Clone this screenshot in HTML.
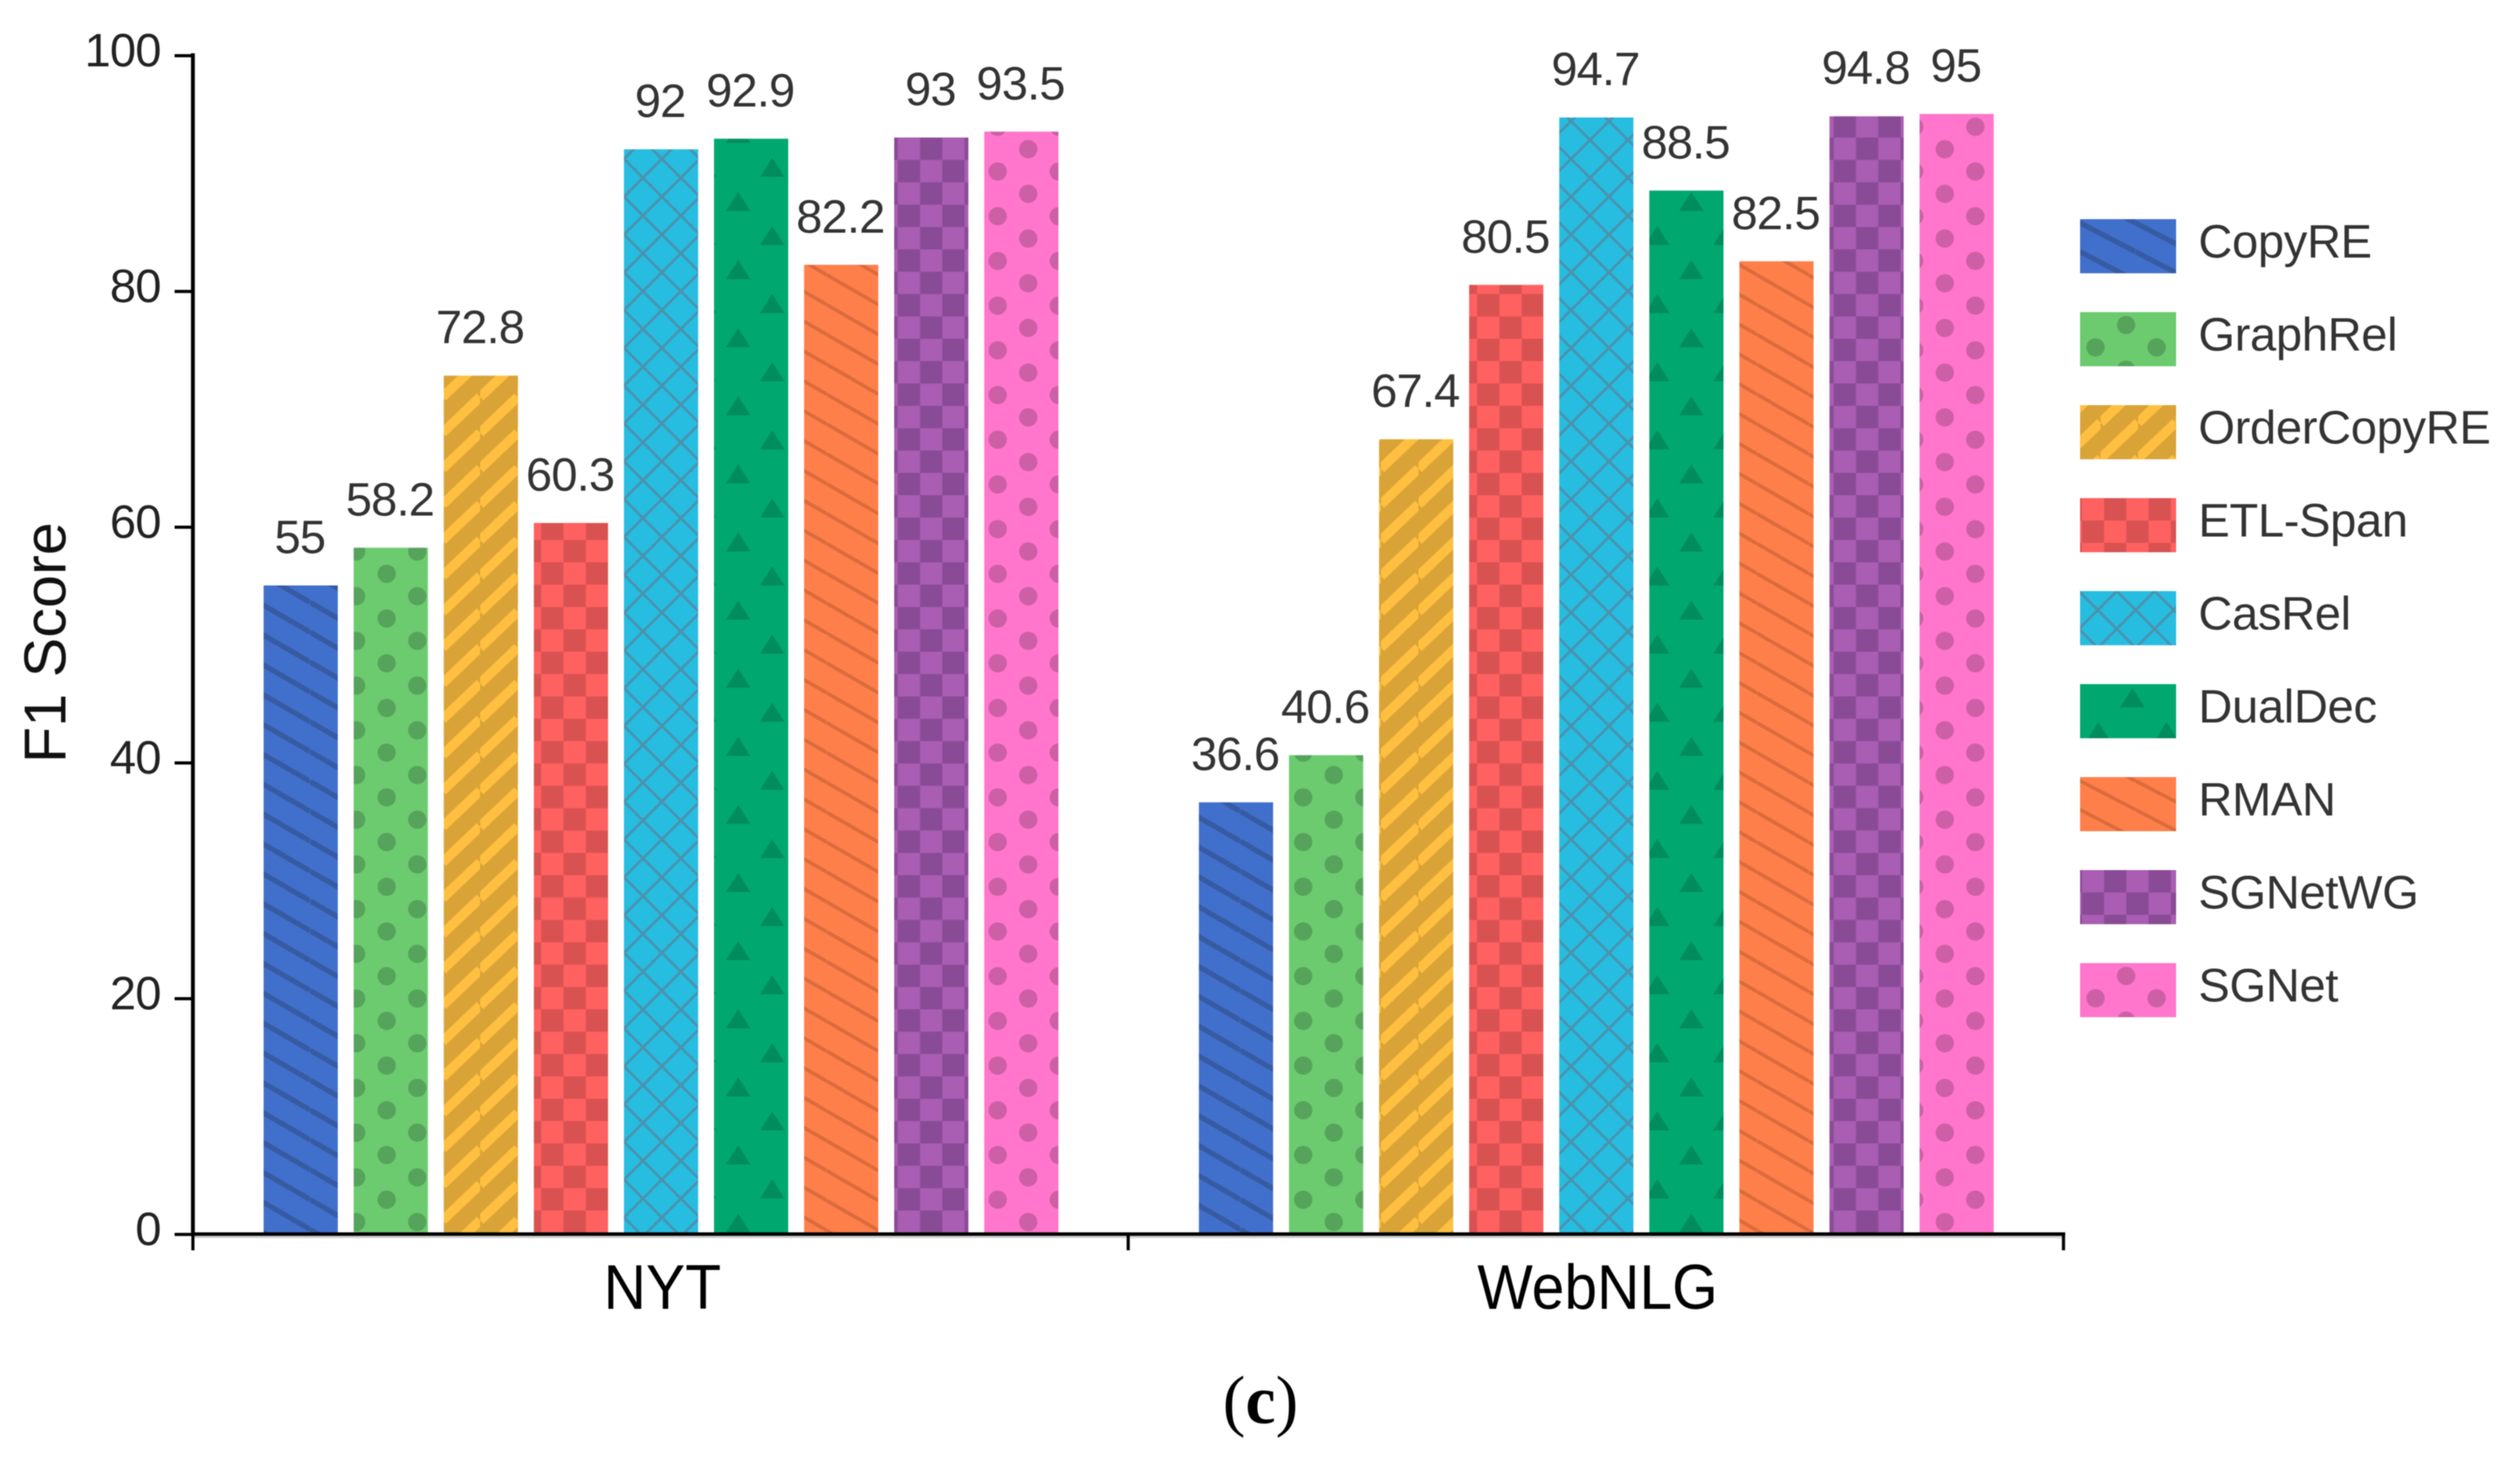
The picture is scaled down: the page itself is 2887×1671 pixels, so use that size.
<!DOCTYPE html>
<html lang="en">
<head>
<meta charset="utf-8">
<title>F1 Score by method on NYT and WebNLG</title>
<style>
html,body{margin:0;padding:0;background:#fff;width:2887px;height:1671px;overflow:hidden}
svg{display:block;filter:blur(.6px)}
text{font-family:"Liberation Sans","Noto Sans CJK KR",sans-serif}
</style>
</head>
<body>
<svg id="chart" xmlns="http://www.w3.org/2000/svg" width="2887" height="1671" viewBox="0 0 2887 1671">
<defs>
  <pattern id="p-copyre" patternUnits="userSpaceOnUse" x="0" y="5.8" width="59.2" height="34.2">
    <rect width="60" height="35" fill="#4170cc"/>
    <path d="M0 -34.2L59.2 0M0 0L59.2 34.2M0 34.2L59.2 68.4" stroke="#375ba3" stroke-width="6" fill="none"/>
  </pattern>
  <pattern id="p-graphrel" patternUnits="userSpaceOnUse" x="443" y="1118" width="70" height="51.2">
    <rect width="71" height="52" fill="#6ccb6e"/>
    <circle cx="0" cy="0" r="10.5" fill="#56a35b"/><circle cx="70" cy="0" r="10.5" fill="#56a35b"/>
    <circle cx="0" cy="51.2" r="10.5" fill="#56a35b"/><circle cx="70" cy="51.2" r="10.5" fill="#56a35b"/>
    <circle cx="35" cy="25.6" r="10.5" fill="#56a35b"/>
  </pattern>
  <pattern id="p-ordercopyre" patternUnits="userSpaceOnUse" x="550" y="741.7" width="43" height="41">
    <rect width="44" height="42" fill="#d9a338"/>
    <path d="M0 0L43 -41M0 41L43 0M0 82L43 41" stroke="#ffbf40" stroke-width="11" fill="none"/>
  </pattern>
  <pattern id="p-etlspan" patternUnits="userSpaceOnUse" x="620" y="644" width="51.06" height="51.2">
    <rect width="52" height="52" fill="#ff6060"/>
    <rect x="0" y="0" width="25.53" height="25.6" fill="#d95252"/>
    <rect x="25.53" y="25.6" width="25.53" height="25.6" fill="#d95252"/>
  </pattern>
  <pattern id="p-casrel" patternUnits="userSpaceOnUse" x="758.3" y="658.3" width="43.4" height="43.3">
    <rect width="44" height="44" fill="#27bde0"/>
    <path d="M-5 -5L48.4 48.3M48.4 -5L-5 48.3" stroke="#4a92ae" stroke-width="3" fill="none"/>
  </pattern>
  <pattern id="p-dualdec" patternUnits="userSpaceOnUse" x="845.7" y="631.7" width="78" height="78">
    <rect width="79" height="79" fill="#00a86f"/>
    <path d="M-14 0L0 -22L14 0ZM64 0L78 -22L92 0ZM-14 78L0 56L14 78ZM64 78L78 56L92 78ZM25 39L39 17L53 39Z" fill="#008c5c"/>
  </pattern>
  <pattern id="p-rman" patternUnits="userSpaceOnUse" x="0" y="7" width="59.2" height="34.2">
    <rect width="60" height="35" fill="#ff7f4a"/>
    <path d="M0 -34.2L59.2 0M0 0L59.2 34.2M0 34.2L59.2 68.4" stroke="#d96b3c" stroke-width="4" fill="none"/>
  </pattern>
  <pattern id="p-sgnetwg" patternUnits="userSpaceOnUse" x="620" y="644" width="51.06" height="51.2">
    <rect width="52" height="52" fill="#a95db3"/>
    <rect x="0" y="0" width="25.53" height="25.6" fill="#894b95"/>
    <rect x="25.53" y="25.6" width="25.53" height="25.6" fill="#894b95"/>
  </pattern>
  <pattern id="p-sgnet" patternUnits="userSpaceOnUse" x="443" y="1118" width="70" height="51.2">
    <rect width="71" height="52" fill="#ff76cc"/>
    <circle cx="0" cy="0" r="10.5" fill="#cc5fa5"/><circle cx="70" cy="0" r="10.5" fill="#cc5fa5"/>
    <circle cx="0" cy="51.2" r="10.5" fill="#cc5fa5"/><circle cx="70" cy="51.2" r="10.5" fill="#cc5fa5"/>
    <circle cx="35" cy="25.6" r="10.5" fill="#cc5fa5"/>
  </pattern>

  <pattern id="l-copyre" patternUnits="userSpaceOnUse" x="0" y="4.3" width="63.5" height="33">
    <rect width="64" height="34" fill="#4170cc"/>
    <path d="M0 -33L63.5 0M0 0L63.5 33M0 33L63.5 66" stroke="#375ba3" stroke-width="6" fill="none"/>
  </pattern>
  <pattern id="l-graphrel" patternUnits="userSpaceOnUse" x="17.7" y="40.3" width="70" height="51.2">
    <rect width="71" height="52" fill="#6ccb6e"/>
    <circle cx="0" cy="0" r="10.5" fill="#56a35b"/><circle cx="70" cy="0" r="10.5" fill="#56a35b"/>
    <circle cx="0" cy="51.2" r="10.5" fill="#56a35b"/><circle cx="70" cy="51.2" r="10.5" fill="#56a35b"/>
    <circle cx="35" cy="-25.6" r="10.5" fill="#56a35b"/><circle cx="35" cy="25.6" r="10.5" fill="#56a35b"/>
  </pattern>
  <pattern id="l-ordercopyre" patternUnits="userSpaceOnUse" x="23.5" y="61" width="43" height="41">
    <rect width="44" height="42" fill="#d9a338"/>
    <path d="M0 0L43 -41M0 41L43 0M0 82L43 41" stroke="#ffbf40" stroke-width="11" fill="none"/>
  </pattern>
  <pattern id="l-etlspan" patternUnits="userSpaceOnUse" x="2" y="0" width="51" height="51.2">
    <rect width="52" height="52" fill="#ff6060"/>
    <rect x="25.5" y="0" width="25.5" height="25.6" fill="#d95252"/>
    <rect x="0" y="25.6" width="25.5" height="25.6" fill="#d95252"/>
  </pattern>
  <pattern id="l-casrel" patternUnits="userSpaceOnUse" x="42" y="0" width="43.4" height="43.3">
    <rect width="44" height="44" fill="#27bde0"/>
    <path d="M-5 -5L48.4 48.3M48.4 -5L-5 48.3" stroke="#4a92ae" stroke-width="3" fill="none"/>
  </pattern>
  <pattern id="l-dualdec" patternUnits="userSpaceOnUse" x="60" y="26.5" width="78" height="78">
    <rect width="79" height="79" fill="#00a86f"/>
    <path d="M-14 0L0 -22L14 0ZM64 0L78 -22L92 0ZM-14 78L0 56L14 78ZM64 78L78 56L92 78ZM25 39L39 17L53 39Z" fill="#008c5c"/>
  </pattern>
  <pattern id="l-rman" patternUnits="userSpaceOnUse" x="0" y="4.3" width="63.5" height="33">
    <rect width="64" height="34" fill="#ff7f4a"/>
    <path d="M0 -33L63.5 0M0 0L63.5 33M0 33L63.5 66" stroke="#d96b3c" stroke-width="4" fill="none"/>
  </pattern>
  <pattern id="l-sgnetwg" patternUnits="userSpaceOnUse" x="2" y="0" width="51" height="51.2">
    <rect width="52" height="52" fill="#a95db3"/>
    <rect x="25.5" y="0" width="25.5" height="25.6" fill="#894b95"/>
    <rect x="0" y="25.6" width="25.5" height="25.6" fill="#894b95"/>
  </pattern>
  <pattern id="l-sgnet" patternUnits="userSpaceOnUse" x="17.7" y="40.3" width="70" height="51.2">
    <rect width="71" height="52" fill="#ff76cc"/>
    <circle cx="0" cy="0" r="10.5" fill="#cc5fa5"/><circle cx="70" cy="0" r="10.5" fill="#cc5fa5"/>
    <circle cx="0" cy="51.2" r="10.5" fill="#cc5fa5"/><circle cx="70" cy="51.2" r="10.5" fill="#cc5fa5"/>
    <circle cx="35" cy="-25.6" r="10.5" fill="#cc5fa5"/><circle cx="35" cy="25.6" r="10.5" fill="#cc5fa5"/>
  </pattern>
</defs>
<g id="bars"></g>
<g id="labels"></g>
<g id="y-axis"></g>
<g id="x-axis"></g>
<g id="legend"></g>
<text transform="translate(75,736) rotate(-90)" text-anchor="middle" font-size="68" fill="#111">F1 Score</text>
<text x="1444" y="1630" text-anchor="middle" font-size="78" fill="#000" style="font-family:'Liberation Serif',serif">(<tspan font-weight="bold">c</tspan>)</text>
</svg>
<script>
const categories = ['NYT', 'WebNLG'];
const methods = ['CopyRE', 'GraphRel', 'OrderCopyRE', 'ETL-Span', 'CasRel', 'DualDec', 'RMAN', 'SGNetWG', 'SGNet'];
const copyREValues = [55, 36.6];
const graphRelValues = [58.2, 40.6];
const orderCopyREValues = [72.8, 67.4];
const etlSpanValues = [60.3, 80.5];
const casRelValues = [92, 94.7];
const dualDecValues = [92.9, 88.5];
const rmanValues = [82.2, 82.5];
const sgNetWGValues = [93, 94.8];
const sgNetValues = [93.5, 95];
const yTickValues = [0, 20, 40, 60, 80, 100];

const seriesValues = [copyREValues, graphRelValues, orderCopyREValues, etlSpanValues, casRelValues, dualDecValues, rmanValues, sgNetWGValues, sgNetValues];
const patternKeys = ['copyre', 'graphrel', 'ordercopyre', 'etlspan', 'casrel', 'dualdec', 'rman', 'sgnetwg', 'sgnet'];

const NS = 'http://www.w3.org/2000/svg';
const plotLeft = 221, plotRight = 2364, yZero = 1413, yTop = 63, yMax = 100;
const bandWidth = (plotRight - plotLeft) / categories.length;
const barWidth = 85, barStep = 103.2, barInset = 81;

function yScale(v) { return yZero - (v / yMax) * (yZero - yTop); }
function bandLeft(c) { return plotLeft + c * bandWidth; }
function xBar(c, s) { return bandLeft(c) + barInset + s * barStep; }
function make(tag, attrs, parent) {
  const el = document.createElementNS(NS, tag);
  for (const k in attrs) el.setAttribute(k, attrs[k]);
  parent.appendChild(el);
  return el;
}

const barsG = document.getElementById('bars');
const labelsG = document.getElementById('labels');
const yAxisG = document.getElementById('y-axis');
const xAxisG = document.getElementById('x-axis');
const legendG = document.getElementById('legend');

seriesValues.forEach(function (vals, s) {
  vals.forEach(function (v, c) {
    const top = yScale(v);
    const bar = make('rect', { x: xBar(c, s), y: top, width: barWidth, height: yZero - top, fill: 'url(#p-' + patternKeys[s] + ')' }, barsG);
    
    
    const lab = make('text', { x: xBar(c, s) + barWidth / 2 - 1, y: top - 37, 'text-anchor': 'middle', 'font-size': 54, 'letter-spacing': '-1', fill: '#333' }, labelsG);
    lab.textContent = String(v);
    
    
  });
});

const yLine = make('rect', { x: plotLeft - 2.2, y: yScale(yMax) - 2, width: 4.4, height: yZero - yScale(yMax) + 2, fill: '#000' }, yAxisG);


yTickValues.forEach(function (t) {
  const tick = make('rect', { x: plotLeft - 21, y: yScale(t) - 1, width: 21, height: 3.6, fill: '#000' }, yAxisG);
  
  
  const lab = make('text', { x: 184, y: yScale(t) + 13, 'text-anchor': 'end', 'font-size': 54, 'letter-spacing': '-1', fill: '#222' }, yAxisG);
  lab.textContent = String(t);
  
  
});

const xShadow = make('rect', { x: plotLeft, y: yZero + 2.4, width: plotRight - plotLeft, height: 2.6, fill: '#cfcfcf' }, xAxisG);


const xLine = make('rect', { x: plotLeft - 2, y: yZero - 1.6, width: plotRight - plotLeft + 4, height: 4, fill: '#000' }, xAxisG);


for (let i = 0; i <= categories.length; i++) {
  const tick = make('rect', { x: bandLeft(i) - 1.8, y: yZero, width: 3.6, height: 19, fill: '#000' }, xAxisG);
  
  
}
categories.forEach(function (name, c) {
  const cx = bandLeft(c) + bandWidth / 2 + 2;
  const lab = make('text', { transform: 'translate(' + cx + ',1499) scale(.935,1)', 'text-anchor': 'middle', 'font-size': 72, fill: '#000' }, xAxisG);
  lab.textContent = name;
  
  
});

const legendX = 2383, legendY = 251, legendStep = 106.5, swatchW = 110, swatchH = 62;
methods.forEach(function (name, s) {
  const entry = make('g', { transform: 'translate(' + legendX + ',' + (legendY + s * legendStep) + ')' }, legendG);
  
  
  const sw = make('rect', { x: 0, y: 0, width: swatchW, height: swatchH, fill: 'url(#l-' + patternKeys[s] + ')' }, entry);
  
  
  const t = make('text', { x: 135.5, y: 44, 'font-size': 54, 'letter-spacing': '-.4', fill: '#333' }, entry);
  t.textContent = name;
  
  
});
</script>
</body>
</html>
